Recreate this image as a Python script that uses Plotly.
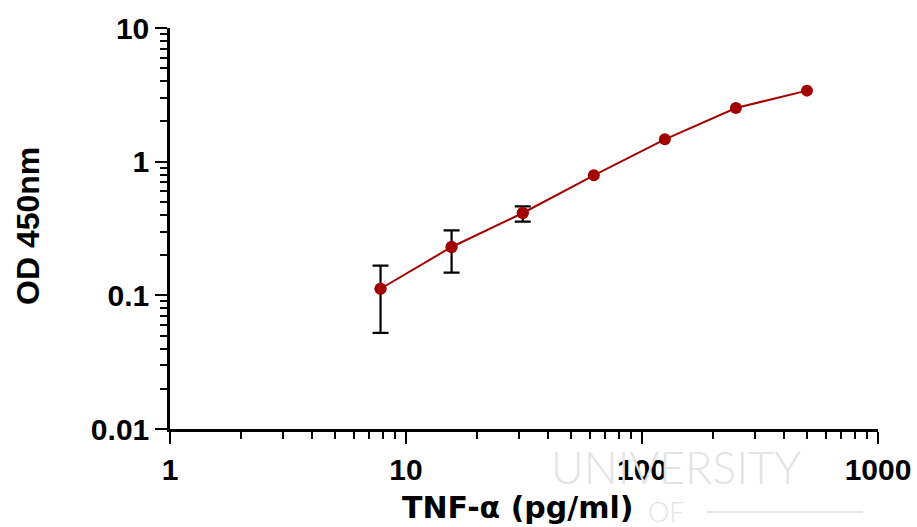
import plotly.graph_objects as go

# TNF-alpha standard curve (mean OD with error bars)
conc = [7.8, 15.6, 31.25, 62.5, 125, 250, 500]
od_mean = [0.112, 0.230, 0.413, 0.79, 1.47, 2.52, 3.40]
# replicate range; None where the spread is too small to draw
od_upper = [0.167, 0.306, 0.463, None, None, None, None]
od_lower = [0.0523, 0.148, 0.356, None, None, None, None]

x_ticks = [1, 10, 100, 1000]
x_tick_text = ["1", "10", "100", "1000"]
y_ticks = [0.01, 0.1, 1, 10]
y_tick_text = ["0.01", "0.1", "1", "10"]

# points that carry a visible error bar
err_idx = [i for i, u in enumerate(od_upper) if u is not None]
err_x = [conc[i] for i in err_idx]
err_y = [od_mean[i] for i in err_idx]
err_plus = [od_upper[i] - od_mean[i] for i in err_idx]
err_minus = [od_mean[i] - od_lower[i] for i in err_idx]

W, H = 917, 527
ML, MR, MT, MB = 170, 39, 28, 98

FONT = "Liberation Sans, Arial, sans-serif"
RED = "#a30000"

fig = go.Figure()
fig.add_trace(go.Scatter(
    x=err_x, y=err_y,
    mode="markers",
    marker=dict(color=RED, size=12),
    error_y=dict(type="data", array=err_plus, arrayminus=err_minus,
                 color="black", thickness=2.2, width=8, visible=True),
    showlegend=False, hoverinfo="skip",
))
fig.add_trace(go.Scatter(
    x=conc, y=od_mean,
    mode="lines+markers",
    line=dict(color=RED, width=2),
    marker=dict(color=RED, size=12),
    showlegend=False,
))

axis_common = dict(
    type="log",
    automargin=False,
    showgrid=False,
    zeroline=False,
    showline=True,
    linecolor="black",
    linewidth=2.5,
    ticks="outside",
    ticklen=12,
    tickwidth=2,
    tickcolor="black",
    tickfont=dict(family=FONT, size=30, color="black", weight="bold"),
    minor=dict(ticks="outside", ticklen=7, tickwidth=2, tickcolor="black",
               dtick="D1", showgrid=False),
)

fig.update_layout(
    width=W, height=H,
    margin=dict(l=ML, r=MR, t=MT, b=MB, autoexpand=False),
    paper_bgcolor="white",
    plot_bgcolor="white",
    xaxis=dict(axis_common, range=[0, 3], tickvals=x_ticks,
               ticktext=x_tick_text),
    yaxis=dict(axis_common, range=[-2, 1], tickvals=y_ticks,
               ticktext=y_tick_text),
)

pw = W - ML - MR
ph = H - MT - MB


def px_x(p):
    return (p - ML) / pw


def px_y(p):
    return (H - MB - p) / ph


annotations = [
    dict(text="TNF-\u03b1 (pg/ml)", x=px_x(518), y=px_y(507),
         font=dict(family="DejaVu Sans, sans-serif", size=30, color="black",
                   weight="bold")),
    dict(text="OD 450nm", x=px_x(28), y=px_y(226), textangle=-90,
         font=dict(family=FONT, size=32, color="black", weight="bold")),
    # faint watermark lettering
    dict(text="UNIVERSITY", x=px_x(676), y=px_y(467),
         font=dict(family="Lato, sans-serif", size=45, color="#e3e3e3",
                   weight=300)),
    dict(text="OF", x=px_x(666), y=px_y(512),
         font=dict(family="Lato, sans-serif", size=27, color="#e3e3e3",
                   weight=300)),
]
for a in annotations:
    a.update(xref="paper", yref="paper", showarrow=False,
             xanchor="center", yanchor="middle")
fig.update_layout(annotations=annotations)

fig.update_layout(shapes=[
    dict(type="line", xref="paper", yref="paper",
         x0=px_x(707), x1=px_x(863), y0=px_y(512), y1=px_y(512),
         line=dict(color="#e6e6e6", width=2), layer="below"),
])

fig.write_html("out.html")
